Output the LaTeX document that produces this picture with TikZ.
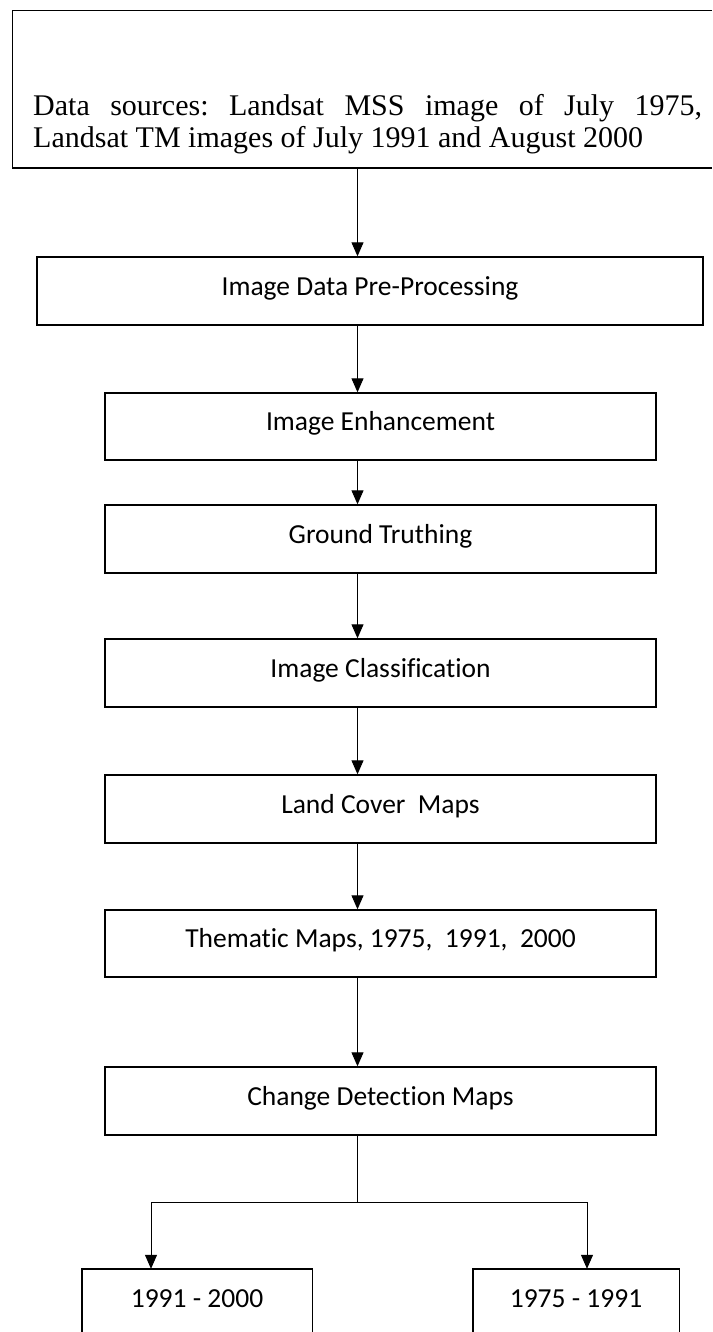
\documentclass[tikz,border=0pt]{standalone}
\usepackage{fontspec}
\usetikzlibrary{arrows.meta}
\newfontfamily\carlito[Ligatures=NoCommon]{Carlito}
\newfontfamily\timesfont{Liberation Serif}
\frenchspacing
\begin{document}
\begin{tikzpicture}[x=1pt,y=-1pt,
  box/.style={draw, line width=1.4pt, inner sep=0pt, minimum height=68pt,
    text height=18pt, text depth=10pt, font=\carlito\fontsize{27.5pt}{30pt}\selectfont},
  openbox/.style={inner sep=0pt, minimum height=68pt,
    text height=18pt, text depth=10pt, font=\carlito\fontsize{27.5pt}{30pt}\selectfont},
  conn/.style={line width=1pt},
  arr/.style={line width=1pt, -{Triangle[length=14pt,width=12pt]}}]
\useasboundingbox[fill=white] (0,0) rectangle (712,1332);
% reference coordinates
\coordinate (ax) at (357.5,0);
\coordinate (pageright) at (712,0);
\coordinate (pagebottom) at (0,1332);
% top source box (open on the right)
\node[inner sep=0pt, minimum width=720pt, minimum height=157pt, anchor=north west] (src) at (12.5,10.5) {};
\draw[line width=1.4pt] (src.north west -| pageright) -- (src.north west) -- (src.south west) -- (src.south west -| pageright);
\node[anchor=north west, inner sep=0pt, align=left,
  font=\timesfont\fontsize{30pt}{31.5pt}\selectfont] (srctxt) at (33,94.5)
  {\makebox[669pt][s]{Data sources: Landsat MSS image of July 1975,}\\
   Landsat TM images of July 1991 and August 2000};
% process boxes
\node[box, minimum width=666pt] (prep) at (370,291) {Image Data Pre-Processing};
\node[box, minimum width=551pt, minimum height=67pt] (enh) at (380.5,426.5) {Image Enhancement};
\node[box, minimum width=551pt] (gt) at (380.5,539) {Ground Truthing};
\node[box, minimum width=551pt] (ic) at (380.5,673) {Image Classification};
\node[box, minimum width=551pt] (lcm) at (380.5,809) {Land Cover\ \ Maps};
\node[box, minimum width=551pt, minimum height=67pt] (tm) at (380.5,943.5) {Thematic Maps, 1975,\ \ 1991,\ \ 2000};
\node[box, minimum width=551pt] (cdm) at (380.5,1101) {Change Detection Maps};
% bottom boxes (open at the bottom edge)
\node[openbox, minimum width=230pt] (ya) at (197,1303) {1991 - 2000};
\node[openbox, minimum width=206pt] (yb) at (576,1303) {1975 - 1991};
\draw[line width=1.4pt] (ya.north west |- pagebottom) -- (ya.north west) -- (ya.north east) -- (ya.north east |- pagebottom);
\draw[line width=1.4pt] (yb.north west |- pagebottom) -- (yb.north west) -- (yb.north east) -- (yb.north east |- pagebottom);
% connectors
\draw[arr] (src.south -| ax) -- (prep.north -| ax);
\draw[arr] (prep.south -| ax) -- (enh.north -| ax);
\draw[arr] (enh.south -| ax) -- (gt.north -| ax);
\draw[arr] (gt.south -| ax) -- (ic.north -| ax);
\draw[arr] (ic.south -| ax) -- (lcm.north -| ax);
\draw[arr] (lcm.south -| ax) -- (tm.north -| ax);
\draw[arr] (tm.south -| ax) -- (cdm.north -| ax);
\coordinate (bm) at (357.5,1202);
\coordinate (bl) at (151,1202);
\coordinate (br) at (587,1202);
\draw[conn] (cdm.south -| ax) -- (bm);
\draw[conn] (bl) -- (br);
\draw[arr] (bl) -- (ya.north -| bl);
\draw[arr] (br) -- (yb.north -| br);
\end{tikzpicture}
\end{document}
